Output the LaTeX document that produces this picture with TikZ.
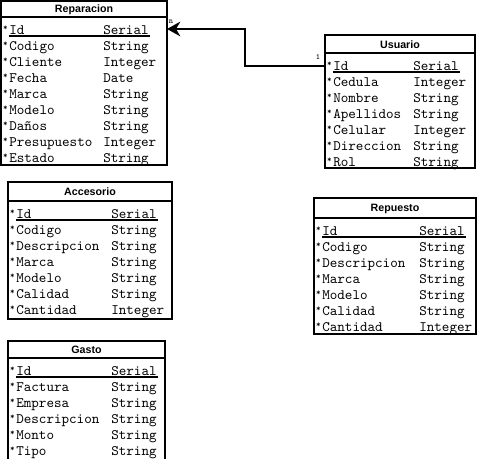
\documentclass[tikz,border=0pt]{standalone}
\usepackage{fontspec}
\setmainfont{Liberation Sans}
\usetikzlibrary{arrows.meta}
\tikzset{
  ebox/.style={draw=black, line width=1.5pt, fill=white, inner sep=0pt, outer sep=0pt},
  sepline/.style={draw=black, line width=1.5pt},
  etitle/.style={font=\fontsize{8}{9}\selectfont\bfseries, inner sep=0pt},
  attr/.style={font=\ttfamily\fontsize{10.8}{11}\selectfont, inner sep=0pt, anchor=base west},
  star/.style={font=\ttfamily\fontsize{6.5}{7}\selectfont\bfseries, inner sep=0pt},
  uline/.style={draw=black, line width=0.9pt},
  rel/.style={line width=1.5pt, -{Stealth[length=10pt,width=11pt]}},
  card/.style={font=\ttfamily\fontsize{6}{6}\selectfont, inner sep=0pt},
}
% #1 id, #2 left, #3 top, #4 right, #5 bottom, #6 header line y, #7 title, #8 type x, #9 rows
\newcommand\drawEntity[9]{%
  \node[ebox, anchor=north west, minimum width={(#4-#2)*0.75pt}, minimum height={(#5-#3)*0.75pt}] (#1) at (#2,#3) {};
  \draw[sepline] (#2,#6) -- (#4,#6);
  \node[etitle] (#1-title) at ({(#2+#4)/2},{(#3+#6)/2+0.5}) {#7};
  \foreach \an/\at [count=\i from 0] in {#9} {
    \pgfmathsetmacro\yy{#6+13.5+16*\i}
    \coordinate (#1-r\i) at (#2,\yy);
    \node[star] (#1-s\i) at (#2+4.5,\yy-2.5) {*};
    \node[attr] (#1-n\i) at (#2+8,\yy+4.5) {\an};
    \node[attr] (#1-t\i) at (#8,\yy+4.5) {\at};
  }
  \draw[uline] (#2+8,#6+19) -- (#8+47,#6+19);
}
\begin{document}
\begin{tikzpicture}[x=0.75pt,y=-0.75pt]
\useasboundingbox (0,0) rectangle (480,459);

\drawEntity{rep}{1}{1}{167}{165}{17}{Reparacion}{103}{Id/Serial,Codigo/String,Cliente/Integer,Fecha/Date,Marca/String,Modelo/String,Daños/String,Presupuesto/Integer,Estado/String}

\drawEntity{usu}{325}{35}{475}{168}{53}{Usuario}{413}{Id/Serial,Cedula/Integer,Nombre/String,Apellidos/String,Celular/Integer,Direccion/String,Rol/String}

\drawEntity{acc}{8}{182}{172}{319}{201}{Accesorio}{111}{Id/Serial,Codigo/String,Descripcion/String,Marca/String,Modelo/String,Calidad/String,Cantidad/Integer}

\drawEntity{rpt}{314}{198}{476}{334}{218}{Repuesto}{419}{Id/Serial,Codigo/String,Descripcion/String,Marca/String,Modelo/String,Calidad/String,Cantidad/Integer}

\drawEntity{gas}{8}{341}{165}{461}{358}{Gasto}{111}{Id/Serial,Factura/String,Empresa/String,Descripcion/String,Monto/String,Tipo/String}

\coordinate (bend) at (245,29);
\draw[rel] (usu.west |- usu-r0) -| (bend) -- (rep.east |- bend);
\node[card] (cn) at (171,22) {n};
\node[card] (c1) at (318,57) {1};
\end{tikzpicture}
\end{document}
